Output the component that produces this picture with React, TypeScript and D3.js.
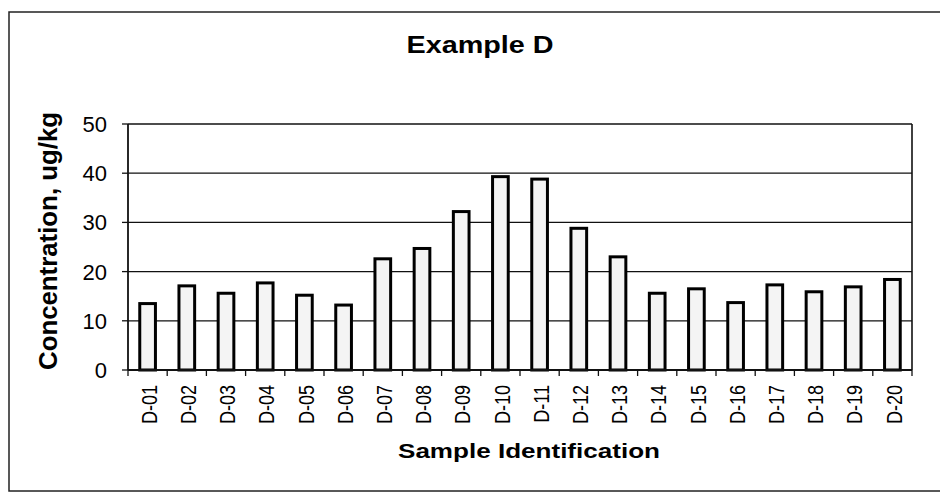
import React from "react";
import * as d3 from "d3";

const categories = ["D-01","D-02","D-03","D-04","D-05","D-06","D-07","D-08","D-09","D-10","D-11","D-12","D-13","D-14","D-15","D-16","D-17","D-18","D-19","D-20"];
const values = [13.5,17.1,15.6,17.7,15.2,13.2,22.6,24.7,32.2,39.3,38.8,28.8,23.0,15.6,16.5,13.7,17.3,15.9,16.9,18.4];
const yTicks = [0,10,20,30,40,50];
const title = "Example D";
const xTitle = "Sample Identification";
const yTitle = "Concentration, ug/kg";

const W = 940, H = 492;
const plot = { left: 128, right: 912, top: 124, bottom: 370 };
const FONT = "Arial, 'Liberation Sans', Helvetica, sans-serif";

export default function App() {
  const x = d3.scaleBand<string>().domain(categories).range([plot.left, plot.right]).paddingInner(0.6).paddingOuter(0.3);
  const y = d3.scaleLinear().domain([0, 50]).range([plot.bottom, plot.top]);
  const step = x.step();
  const bounds = d3.range(categories.length + 1).map(i => plot.left + i * step);

  return (
    <svg width={W} height={H} style={{ position: "absolute", left: 0, top: 0, background: "#fff" }} fontFamily={FONT}>
      <rect x={9} y={12} width={940} height={479} fill="none" stroke="#222" strokeWidth={1.5} />
      <text x={480} y={53} textAnchor="middle" fontWeight="bold" fontSize={24} textLength={147} lengthAdjust="spacingAndGlyphs">{title}</text>

      {yTicks.filter(t => t > 0 && t < 50).map(t => (
        <line key={"g" + t} x1={plot.left} x2={plot.right} y1={y(t)} y2={y(t)} stroke="#111" strokeWidth={1.3} />
      ))}
      <line x1={plot.left} x2={plot.right} y1={y(50)} y2={y(50)} stroke="#111" strokeWidth={1.6} />
      <line x1={plot.right} x2={plot.right} y1={y(50)} y2={y(0)} stroke="#111" strokeWidth={1.6} />

      {categories.map((c, i) => (
        <rect key={c} x={x(c)!} y={y(values[i])} width={x.bandwidth()} height={y(0) - y(values[i])}
          fill="#f4f4f4" stroke="#000" strokeWidth={3} />
      ))}

      <line x1={plot.left} x2={plot.left} y1={y(50)} y2={y(0)} stroke="#111" strokeWidth={1.8} />
      <line x1={plot.left} x2={plot.right} y1={y(0)} y2={y(0)} stroke="#111" strokeWidth={1.8} />

      {yTicks.map(t => (
        <g key={"y" + t}>
          <line x1={plot.left - 6} x2={plot.left} y1={y(t)} y2={y(t)} stroke="#111" strokeWidth={1.3} />
          <text x={107} y={y(t)} dy="0.36em" textAnchor="end" fontSize={22}>{t}</text>
        </g>
      ))}

      {bounds.map((bx, i) => (
        <line key={"xt" + i} x1={bx} x2={bx} y1={plot.bottom} y2={plot.bottom + 6} stroke="#111" strokeWidth={1.3} />
      ))}
      {categories.map(c => {
        const cx = x(c)! + x.bandwidth() / 2;
        return (
          <text key={"l" + c} transform={`translate(${cx + 1},385) rotate(-90) scale(1,1.25)`} dy="0.36em" textAnchor="end" fontSize={18}>{c}</text>
        );
      })}

      <text x={529} y={458} textAnchor="middle" fontWeight="bold" fontSize={21} textLength={262} lengthAdjust="spacingAndGlyphs">{xTitle}</text>
      <text transform={`translate(57,241) rotate(-90) scale(1,1.15)`} textAnchor="middle" fontWeight="bold" fontSize={22} textLength={258} lengthAdjust="spacingAndGlyphs">{yTitle}</text>
    </svg>
  );
}
